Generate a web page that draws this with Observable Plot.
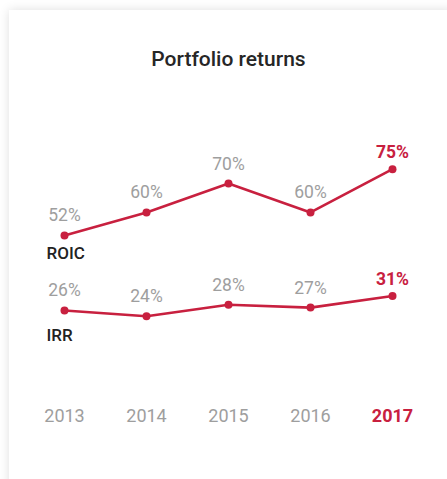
<!DOCTYPE html>
<html>
<head>
<meta charset="utf-8">
<script src="https://cdn.jsdelivr.net/npm/d3@7"></script>
<script src="https://cdn.jsdelivr.net/npm/@observablehq/plot@0.6"></script>
<style>
  html, body { margin: 0; padding: 0; background: #ffffff; }
  body { width: 447px; height: 479px; overflow: hidden; position: relative; font-family: Roboto, sans-serif; }
  #card { position: absolute; left: 9px; top: 10px; width: 445px; height: 490px; background: #fff;
          box-shadow: 0 0 10px rgba(0,0,0,0.13); }
  #title { position: absolute; left: 0; top: 37px; width: 439px; text-align: center; font-size: 21px;
           line-height: 24px; font-weight: 500; color: #262626; }
  #chart { position: absolute; left: 0; top: 60px; }
</style>
</head>
<body>
<div id="card">
  <div id="title">Portfolio returns</div>
  <div id="chart"></div>
</div>
<script>
const years = [2013, 2014, 2015, 2016, 2017];
const roic = [52, 60, 70, 60, 75];
const irr = [26, 24, 28, 27, 31];
const seriesNames = ["ROIC", "IRR"];

const red = "#c8203f";
const gray = "#9e9e9e";

const rows = [];
years.forEach((y, i) => {
  rows.push({series: "ROIC", year: y, value: roic[i]});
  rows.push({series: "IRR", year: y, value: irr[i]});
});
const last = years[years.length - 1];
const isLast = d => d.year === last;

const chart = Plot.plot({
  width: 439,
  height: 409,
  marginLeft: 55,
  marginRight: 56,
  marginTop: 26.5,
  marginBottom: 94,
  x: {type: "point", domain: years, padding: 0, axis: null},
  y: {domain: [0, 100], axis: null},
  style: {fontFamily: "Roboto, sans-serif", background: "transparent"},
  marks: [
    Plot.line(rows, {x: "year", y: "value", z: "series", stroke: red, strokeWidth: 2.6}),
    Plot.dot(rows, {x: "year", y: "value", r: 4, fill: red}),
    Plot.text(rows.filter(d => !isLast(d)), {x: "year", y: "value", text: d => d.value + "%", dy: -14,
      lineAnchor: "bottom", fill: gray, fontSize: 17.5}),
    Plot.text(rows.filter(isLast), {x: "year", y: "value", text: d => d.value + "%", dy: -11,
      lineAnchor: "bottom", fill: red, fontSize: 17.5, fontWeight: "bold"}),
    Plot.text(rows.filter(d => d.series === seriesNames[0] && d.year === years[0]), {x: "year", y: "value", text: "series",
      dx: -18, dy: 24, lineAnchor: "bottom", textAnchor: "start", fill: "#222", fontSize: 17, fontWeight: 500}),
    Plot.text(rows.filter(d => d.series === seriesNames[1] && d.year === years[0]), {x: "year", y: "value", text: "series",
      dx: -18, dy: 31, lineAnchor: "bottom", textAnchor: "start", fill: "#222", fontSize: 17, fontWeight: 500}),
    Plot.text(years.filter(y => y !== last), {x: d => d, frameAnchor: "bottom", lineAnchor: "bottom", dy: 36.7,
      text: d => String(d), fill: gray, fontSize: 18}),
    Plot.text([last], {x: d => d, frameAnchor: "bottom", lineAnchor: "bottom", dy: 36.7,
      text: d => String(d), fill: red, fontSize: 18, fontWeight: "bold"})
  ]
});
document.getElementById("chart").appendChild(chart);
</script>
</body>
</html>
